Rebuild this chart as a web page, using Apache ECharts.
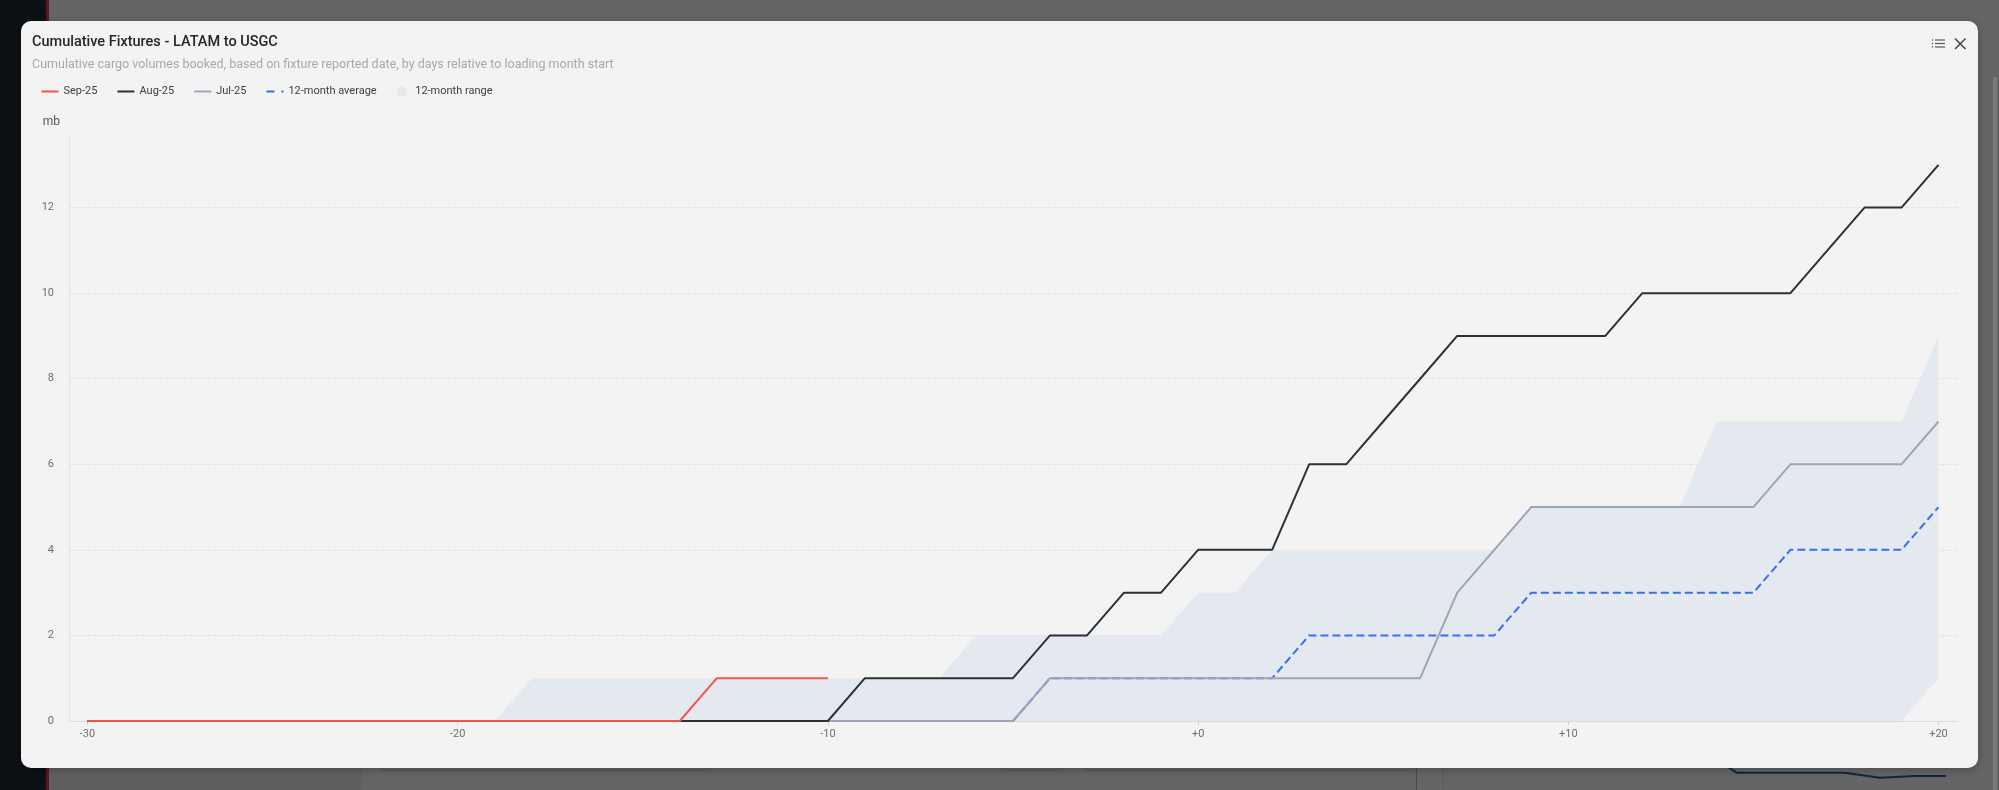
<!DOCTYPE html>
<html>
<head>
<meta charset="utf-8">
<script src="https://cdn.jsdelivr.net/npm/echarts@6/dist/echarts.min.js"></script>
<style>
  html, body { margin:0; padding:0; }
  body { width:1999px; height:790px; background:#656565; position:relative; overflow:hidden; font-family:Roboto, sans-serif; }
  #bg { position:absolute; left:0; top:0; width:1999px; height:790px; }
  #modal { position:absolute; left:21px; top:21px; width:1957px; height:747px; background:#f3f3f3; border-radius:10px; box-shadow:0 2px 8px rgba(0,0,0,0.25); }
  #chart { position:absolute; left:0; top:0; width:1999px; height:790px; }
</style>
</head>
<body>
<svg id="bg" width="1999" height="790" xmlns="http://www.w3.org/2000/svg">
  <rect x="49" y="740" width="313" height="50" fill="#5f5f5f"/>
  <rect x="0" y="0" width="46" height="790" fill="#0d1015"/>
  <rect x="46" y="0" width="3" height="790" fill="#5e1716"/>
  <rect x="380" y="740" width="331" height="30" rx="4" fill="none" stroke="#575757" stroke-width="1"/>
  <rect x="1000" y="740" width="64" height="30" rx="4" fill="none" stroke="#575757" stroke-width="1"/>
  <rect x="1083" y="740" width="331" height="30" rx="4" fill="none" stroke="#575757" stroke-width="1"/>
  <line x1="1416.5" y1="768" x2="1416.5" y2="790" stroke="#4a4a4a" stroke-width="1"/>
  <line x1="1443" y1="768" x2="1443" y2="790" stroke="#5c5c5c" stroke-width="1"/>
  <polyline points="1728,767 1736.5,772.7 1845,772.7 1880,777.7 1914,776 1946,776" fill="none" stroke="#0f2540" stroke-width="2"/>
  <rect x="1993" y="77" width="4" height="713" fill="#7a7a7a"/>
</svg>
<div id="modal"></div>
<div id="chart"></div>
<script>
// ---- data ----
const days = ['-30','-29','-28','-27','-26','-25','-24','-23','-22','-21',
  '-20','-19','-18','-17','-16','-15','-14','-13','-12','-11',
  '-10','-9','-8','-7','-6','-5','-4','-3','-2','-1',
  '+0','+1','+2','+3','+4','+5','+6','+7','+8','+9',
  '+10','+11','+12','+13','+14','+15','+16','+17','+18','+19','+20'];

const sep25 = [0,0,0,0,0,0,0,0,0,0, 0,0,0,0,0,0,0,1,1,1,
  1,null,null,null,null,null,null,null,null,null,
  null,null,null,null,null,null,null,null,null,null,
  null,null,null,null,null,null,null,null,null,null,null];

const aug25 = [0,0,0,0,0,0,0,0,0,0, 0,0,0,0,0,0,0,0,0,0,
  0,1,1,1,1,1,2,2,3,3,
  4,4,4,6,6,7,8,9,9,9,
  9,9,10,10,10,10,10,11,12,12,13];

const jul25 = [0,0,0,0,0,0,0,0,0,0, 0,0,0,0,0,0,0,0,0,0,
  0,0,0,0,0,0,1,1,1,1,
  1,1,1,1,1,1,1,3,4,5,
  5,5,5,5,5,5,6,6,6,6,7];

const avg12m = [0,0,0,0,0,0,0,0,0,0, 0,0,0,0,0,0,0,0,0,0,
  0,0,0,0,0,0,1,1,1,1,
  1,1,1,2,2,2,2,2,2,3,
  3,3,3,3,3,3,4,4,4,4,5];

const rangeLow = [0,0,0,0,0,0,0,0,0,0, 0,0,0,0,0,0,0,0,0,0,
  0,0,0,0,0,0,0,0,0,0,
  0,0,0,0,0,0,0,0,0,0,
  0,0,0,0,0,0,0,0,0,0,1];

const rangeHigh = [0,0,0,0,0,0,0,0,0,0, 0,0,1,1,1,1,1,1,1,1,
  1,1,1,1,2,2,2,2,2,2,
  3,3,4,4,4,4,4,4,4,5,
  5,5,5,5,7,7,7,7,7,7,9];

const yTicks = [0,2,4,6,8,10,12];

// ---- chart ----
const rangeSpan = rangeHigh.map((h, i) => h - rangeLow[i]);
const BAND = '#e4e9f0';
const FONT = 'Roboto';
const LINE_ICON = 'path://M0,0h17v2h-17z';
const DASH_ICON = 'path://M0,0h8v2h-8z M15,0h2v2h-2z';

const chart = echarts.init(document.getElementById('chart'), null, {renderer:'canvas'});
chart.setOption({
  animation: false,
  backgroundColor: 'transparent',
  textStyle: { fontFamily: FONT },
  title: [
    { text: 'Cumulative Fixtures - LATAM to USGC', left: 32, top: 35, padding: 0,
      textStyle: { fontFamily: FONT, fontSize: 14.5, fontWeight: 500, color: '#22262b' } },
    { text: 'Cumulative cargo volumes booked, based on fixture reported date, by days relative to loading month start',
      left: 32, top: 58.5, padding: 0,
      textStyle: { fontFamily: FONT, fontSize: 12.5, fontWeight: 400, color: '#a5a9af' } }
  ],
  legend: {
    left: 41.5, top: 86, padding: 0, itemWidth: 17, itemHeight: 10, itemGap: 20,
    textStyle: { fontFamily: FONT, fontSize: 11, color: '#3a3f46' },
    data: [
      { name: 'Sep-25', icon: LINE_ICON }, { name: 'Aug-25', icon: LINE_ICON },
      { name: 'Jul-25', icon: LINE_ICON }, { name: '12-month average', icon: DASH_ICON },
      { name: '12-month range', icon: 'circle', itemStyle: { color: BAND } }
    ]
  },
  grid: { left: 69, right: 42, top: 137, bottom: 69, containLabel: false },
  xAxis: {
    type: 'category', data: days, boundaryGap: true,
    axisLine: { show: true, lineStyle: { color: '#dcdcdc' } },
    axisTick: { show: true, alignWithLabel: true, interval: 9, length: 4, lineStyle: { color: '#cfcfcf' } },
    axisLabel: { interval: 9, fontSize: 11, color: '#6f6f6f', margin: 8, fontFamily: FONT },
    splitLine: { show: false }
  },
  yAxis: {
    type: 'value', min: 0, max: 13.65, interval: 2,
    name: 'mb', nameLocation: 'end', nameGap: 15,
    nameTextStyle: { fontFamily: FONT, fontSize: 12, color: '#555', align: 'right', verticalAlign: 'middle', padding: [0, 9, 0, 0] },
    axisLine: { show: true, lineStyle: { color: '#e2e2e2' } },
    axisTick: { show: false },
    axisLabel: { fontSize: 11, color: '#6f6f6f', margin: 15, showMaxLabel: false, fontFamily: FONT,
      formatter: v => (yTicks.indexOf(v) >= 0 ? String(v) : '') },
    splitLine: { show: true, showMaxLine: false, lineStyle: { color: '#e3e3e3', type: 'dashed' } }
  },
  graphic: [
    { type: 'circle', shape: { cx: 1932.5, cy: 40, r: 0.8 }, style: { fill: '#555b63' } },
    { type: 'circle', shape: { cx: 1932.5, cy: 43.5, r: 0.8 }, style: { fill: '#555b63' } },
    { type: 'circle', shape: { cx: 1932.5, cy: 47, r: 0.8 }, style: { fill: '#555b63' } },
    { type: 'line', shape: { x1: 1935, y1: 40, x2: 1945, y2: 40 }, style: { stroke: '#555b63', lineWidth: 1.2 } },
    { type: 'line', shape: { x1: 1935, y1: 43.5, x2: 1945, y2: 43.5 }, style: { stroke: '#555b63', lineWidth: 1.2 } },
    { type: 'line', shape: { x1: 1935, y1: 47, x2: 1945, y2: 47 }, style: { stroke: '#555b63', lineWidth: 1.2 } },
    { type: 'line', shape: { x1: 1955, y1: 38.5, x2: 1965.5, y2: 49 }, style: { stroke: '#3d4249', lineWidth: 1.5 } },
    { type: 'line', shape: { x1: 1965.5, y1: 38.5, x2: 1955, y2: 49 }, style: { stroke: '#3d4249', lineWidth: 1.5 } }
  ],
  series: [
    { name: '_base', type: 'line', stack: 'range', data: rangeLow, symbol: 'none',
      lineStyle: { width: 0, opacity: 0 }, silent: true, z: 1 },
    { name: '12-month range', type: 'line', stack: 'range', data: rangeSpan, symbol: 'none', color: BAND,
      lineStyle: { width: 0, opacity: 0 }, areaStyle: { color: BAND, opacity: 1 }, itemStyle: { color: BAND }, z: 1 },
    { name: '12-month average', type: 'line', data: avg12m, symbol: 'none', color: '#3a6cf4',
      lineStyle: { width: 2, type: 'dashed', color: '#3a6cf4' }, z: 2 },
    { name: 'Jul-25', type: 'line', data: jul25, symbol: 'none', color: '#9ca6b8',
      lineStyle: { width: 2, color: '#9ca6b8' }, z: 3 },
    { name: 'Aug-25', type: 'line', data: aug25, symbol: 'none', color: '#2c3137',
      lineStyle: { width: 2, color: '#2c3137' }, z: 4 },
    { name: 'Sep-25', type: 'line', data: sep25, symbol: 'none', color: '#f4554c',
      lineStyle: { width: 2, color: '#f4554c' }, z: 5 }
  ]
});
</script>
</body>
</html>
